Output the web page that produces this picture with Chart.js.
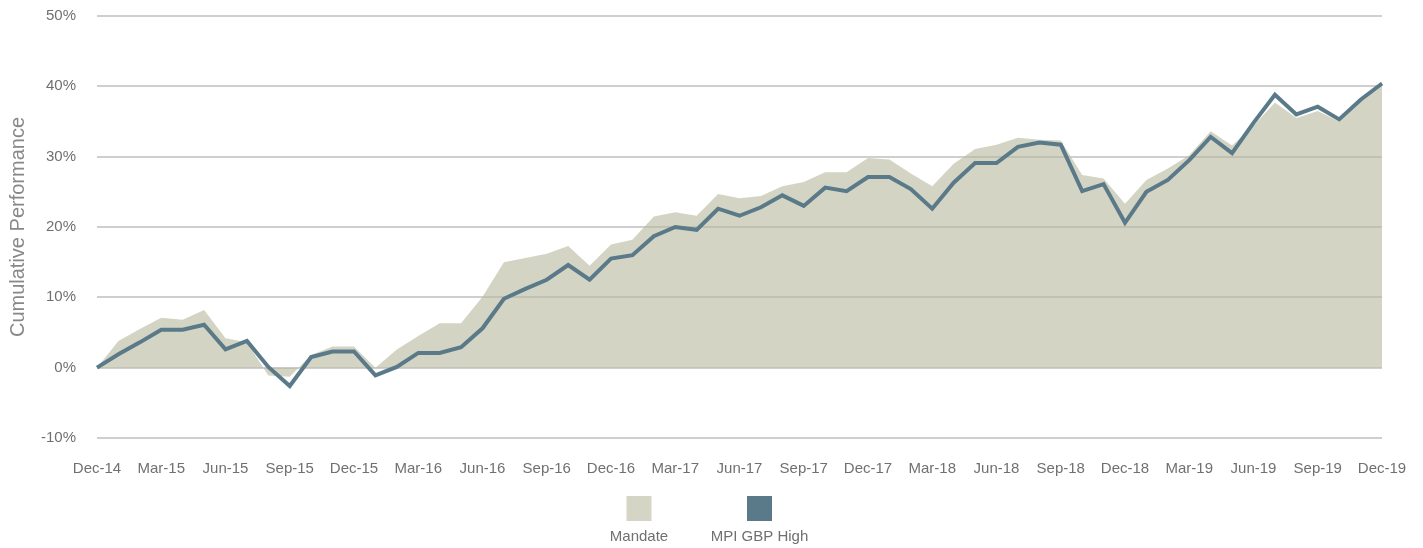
<!DOCTYPE html>
<html>
<head>
<meta charset="utf-8">
<script src="https://cdn.jsdelivr.net/npm/chart.js@4.4.1/dist/chart.umd.min.js"></script>
<style>
  html, body { margin: 0; padding: 0; background: #fff; }
  #wrap { width: 1423px; height: 548px; position: relative; }
</style>
</head>
<body>
<div id="wrap"><canvas id="perf-chart"></canvas></div>
<script>
// Month labels, Dec-14 to Dec-19
const months = [
  'Dec-14', 'Jan-15', 'Feb-15', 'Mar-15', 'Apr-15', 'May-15', 'Jun-15', 'Jul-15', 'Aug-15', 'Sep-15', 'Oct-15', 'Nov-15',
  'Dec-15', 'Jan-16', 'Feb-16', 'Mar-16', 'Apr-16', 'May-16', 'Jun-16', 'Jul-16', 'Aug-16', 'Sep-16', 'Oct-16', 'Nov-16',
  'Dec-16', 'Jan-17', 'Feb-17', 'Mar-17', 'Apr-17', 'May-17', 'Jun-17', 'Jul-17', 'Aug-17', 'Sep-17', 'Oct-17', 'Nov-17',
  'Dec-17', 'Jan-18', 'Feb-18', 'Mar-18', 'Apr-18', 'May-18', 'Jun-18', 'Jul-18', 'Aug-18', 'Sep-18', 'Oct-18', 'Nov-18',
  'Dec-18', 'Jan-19', 'Feb-19', 'Mar-19', 'Apr-19', 'May-19', 'Jun-19', 'Jul-19', 'Aug-19', 'Sep-19', 'Oct-19', 'Nov-19',
  'Dec-19'
];

// Labels shown on the x axis (quarterly)
const shownLabels = [
  'Dec-14', 'Mar-15', 'Jun-15', 'Sep-15', 'Dec-15', 'Mar-16', 'Jun-16', 'Sep-16', 'Dec-16', 'Mar-17', 'Jun-17',
  'Sep-17', 'Dec-17', 'Mar-18', 'Jun-18', 'Sep-18', 'Dec-18', 'Mar-19', 'Jun-19', 'Sep-19', 'Dec-19'
];

// Cumulative performance, %
const mandate = [
  0, 3.8, 5.5, 7.1, 6.8, 8.2, 4.2, 3.6, -1.1, -1.3, 1.8, 3.0,
  3.0, 0.0, 2.6, 4.5, 6.3, 6.3, 10.1, 15.0, 15.6, 16.2, 17.3, 14.5,
  17.5, 18.2, 21.5, 22.1, 21.6, 24.7, 24.1, 24.4, 25.8, 26.4, 27.8, 27.8,
  29.8, 29.6, 27.6, 25.8, 29.0, 31.1, 31.7, 32.7, 32.4, 32.3, 27.4, 26.9,
  23.3, 26.7, 28.3, 30.2, 33.6, 31.6, 34.4, 37.7, 35.5, 36.5, 35.0, 37.8,
  40.7
];
const mpiHigh = [
  0, 1.9, 3.6, 5.4, 5.4, 6.1, 2.6, 3.8, 0.1, -2.6, 1.5, 2.3,
  2.3, -1.1, 0.1, 2.1, 2.1, 2.9, 5.6, 9.8, 11.2, 12.5, 14.6, 12.5,
  15.5, 16.0, 18.7, 20.0, 19.6, 22.6, 21.6, 22.8, 24.5, 23.0, 25.6, 25.1,
  27.1, 27.1, 25.4, 22.6, 26.3, 29.1, 29.1, 31.4, 32.0, 31.7, 25.1, 26.1,
  20.6, 25.0, 26.7, 29.5, 32.8, 30.5, 34.8, 38.8, 36.0, 37.1, 35.3, 38.1,
  40.4
];

// Y axis ticks
const yTicks = [-10, 0, 10, 20, 30, 40, 50];

const mandateColor = '#d5d5c5';
const mandateFill = 'rgba(184, 184, 157, 0.6)';
const mpiColor = '#5a7a89';
const textColor = '#707070';
const font = "'Liberation Sans', Arial, sans-serif";

// Legend with boxes above the labels
const boxLegend = {
  id: 'boxLegend',
  afterDraw(chart) {
    const ctx = chart.ctx;
    const items = [
      { label: 'Mandate', color: mandateColor, cx: 639 },
      { label: 'MPI GBP High', color: mpiColor, cx: 759.5 }
    ];
    ctx.save();
    ctx.font = '15px ' + font;
    ctx.textAlign = 'center';
    ctx.textBaseline = 'middle';
    items.forEach(item => {
      ctx.fillStyle = item.color;
      ctx.fillRect(item.cx - 12.5, 496, 25, 25);
      ctx.fillStyle = textColor;
      ctx.fillText(item.label, item.cx, 537);
    });
    ctx.restore();
  }
};

new Chart(document.getElementById('perf-chart'), {
  type: 'line',
  data: {
    labels: months,
    datasets: [
      {
        label: 'MPI GBP High',
        data: mpiHigh,
        borderColor: mpiColor,
        borderWidth: 4,
        pointRadius: 0,
        fill: false,
        tension: 0,
        order: 0
      },
      {
        label: 'Mandate',
        data: mandate,
        borderWidth: 0,
        borderColor: 'rgba(0,0,0,0)',
        backgroundColor: mandateFill,
        pointRadius: 0,
        fill: 'origin',
        tension: 0,
        order: 1
      }
    ]
  },
  options: {
    responsive: true,
    maintainAspectRatio: false,
    animation: false,
    layout: { padding: { top: 16, right: 41, left: 0, bottom: 0 } },
    plugins: {
      legend: { display: false },
      tooltip: { enabled: false }
    },
    scales: {
      x: {
        grid: { display: false },
        border: { display: false },
        afterFit: scale => { scale.height = 110; },
        ticks: {
          autoSkip: false,
          maxRotation: 0,
          padding: 14,
          color: textColor,
          font: { family: font, size: 15 },
          callback: function (value) {
            const lbl = this.getLabelForValue(value);
            return shownLabels.includes(lbl) ? lbl : '';
          }
        }
      },
      y: {
        min: yTicks[0],
        max: yTicks[yTicks.length - 1],
        afterFit: scale => {
          scale.width = 97;
          scale.paddingTop = 0;
          scale.paddingBottom = 0;
        },
        afterBuildTicks: scale => { scale.ticks = yTicks.map(v => ({ value: v })); },
        grid: { color: '#cfcfcf', lineWidth: 2, drawTicks: false },
        border: { display: false },
        ticks: {
          padding: 21,
          color: textColor,
          font: { family: font, size: 15 },
          callback: v => v + '%'
        },
        title: {
          display: true,
          text: 'Cumulative Performance',
          color: '#888888',
          padding: { top: 6, bottom: 0 },
          font: { family: font, size: 20 }
        }
      }
    }
  },
  plugins: [boxLegend]
});
</script>
</body>
</html>
